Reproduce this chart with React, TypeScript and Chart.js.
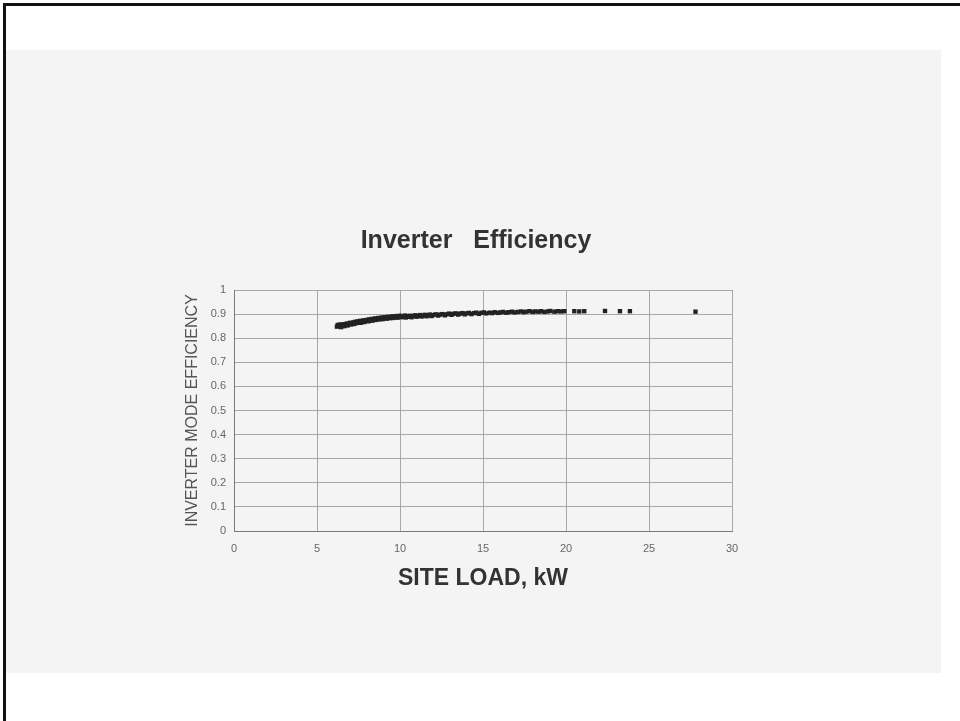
import React, { useEffect, useRef } from "react";
import { Chart, registerables } from "chart.js";

Chart.register(...registerables);

const chartTitle = "Inverter   Efficiency";
const xAxisTitle = "SITE LOAD, kW";
const yAxisTitle = "INVERTER MODE EFFICIENCY";

const siteLoad: number[] = [
  6.2, 6.25, 6.3, 6.4, 6.45, 6.5, 6.6, 6.65, 6.7, 6.8, 6.85, 6.9, 7.0, 7.05, 7.1, 7.2, 7.25, 7.3, 7.4, 7.45,
  7.5, 7.6, 7.65, 7.7, 7.8, 7.85, 7.9, 8.0,
  8.1, 8.15, 8.2, 8.3, 8.35, 8.4, 8.5, 8.55, 8.6, 8.7, 8.75, 8.8, 8.9, 8.95, 9.0, 9.1, 9.2, 9.25, 9.3, 9.4,
  9.5, 9.55, 9.6, 9.7, 9.8, 9.85, 9.9, 10.0, 10.1, 10.2, 10.3, 10.35, 10.4, 10.5,
  10.6, 10.7, 10.8, 10.9, 11.0, 11.1, 11.2, 11.3, 11.4, 11.5, 11.6, 11.7, 11.8, 11.9, 12.0, 12.15, 12.3, 12.4,
  12.55, 12.7, 12.8, 12.95, 13.1, 13.2, 13.35, 13.5, 13.6, 13.75, 13.9, 14.0,
  14.15, 14.3, 14.45, 14.6, 14.75, 14.9, 15.05, 15.2, 15.4, 15.55, 15.7, 15.9, 16.05, 16.2, 16.4, 16.55, 16.75,
  16.9, 17.1, 17.3, 17.45, 17.6, 17.8, 18.0, 18.15, 18.35, 18.5, 18.7, 18.9, 19.05, 19.3, 19.5, 19.7, 19.9,
  20.5, 20.8, 21.1, 22.35, 23.25, 23.85, 27.8,
];

const efficiency: number[] = [
  0.848, 0.855, 0.851, 0.857, 0.846, 0.853, 0.858, 0.85, 0.856, 0.861, 0.853, 0.859, 0.864, 0.857, 0.862, 0.866, 0.859, 0.868, 0.863, 0.87,
  0.866, 0.872, 0.864, 0.869, 0.874, 0.867, 0.872, 0.876,
  0.87, 0.878, 0.874, 0.88, 0.873, 0.877, 0.882, 0.876, 0.88, 0.884, 0.878, 0.882, 0.886, 0.879, 0.883, 0.887, 0.881, 0.885, 0.889, 0.883,
  0.887, 0.891, 0.884, 0.888, 0.892, 0.885, 0.889, 0.893, 0.887, 0.89, 0.894, 0.886, 0.891, 0.889,
  0.893, 0.887, 0.892, 0.895, 0.889, 0.893, 0.896, 0.89, 0.894, 0.897, 0.891, 0.895, 0.898, 0.892, 0.896, 0.899, 0.894, 0.898,
  0.9, 0.895, 0.899, 0.902, 0.897, 0.901, 0.903, 0.898, 0.902, 0.904, 0.899, 0.903,
  0.905, 0.9, 0.904, 0.906, 0.901, 0.905, 0.907, 0.903, 0.906, 0.904, 0.908, 0.905, 0.907, 0.909, 0.906, 0.908, 0.91,
  0.907, 0.909, 0.911, 0.908, 0.91, 0.912, 0.909, 0.911, 0.91, 0.912, 0.909, 0.911, 0.913, 0.91, 0.912, 0.911, 0.912,
  0.912, 0.911, 0.912, 0.913, 0.912, 0.912, 0.91,
];

const FONT = "'Liberation Sans', Arial, sans-serif";

const titlePlugin = {
  id: "offsetTitle",
  afterDraw(chart: any) {
    const { ctx, chartArea } = chart;
    ctx.save();
    ctx.font = `bold 25px ${FONT}`;
    ctx.fillStyle = "#333";
    ctx.textAlign = "center";
    ctx.textBaseline = "middle";
    ctx.fillText(chartTitle, (chartArea.left + chartArea.right) / 2 - 7, chartArea.top - 49);
    ctx.restore();
  },
};

export default function App() {
  const ref = useRef<HTMLCanvasElement | null>(null);

  useEffect(() => {
    if (!ref.current) return;
    const points = siteLoad.map((x, i) => ({ x, y: efficiency[i] }));
    const chart = new Chart(ref.current, {
      type: "scatter",
      data: {
        datasets: [
          {
            data: points,
            pointStyle: "rect",
            pointRadius: 3.1,
            pointBackgroundColor: "#222",
            pointBorderWidth: 0,
            borderWidth: 0,
          },
        ],
      },
      plugins: [titlePlugin],
      options: {
        animation: false,
        responsive: false,
        layout: { padding: { left: 180, right: 228, top: 290, bottom: 120 } },
        plugins: {
          legend: { display: false },
          title: { display: false },
          tooltip: { enabled: false },
        },
        scales: {
          x: {
            type: "linear",
            min: 0,
            max: 30,
            afterFit: (s: any) => {
              s.height = 70;
            },
            ticks: {
              stepSize: 5,
              padding: 11,
              color: "#666",
              font: { family: FONT, size: 11 },
            },
            grid: { color: "#a8a8a8", drawTicks: false, lineWidth: 1 },
            border: { display: true, color: "#7a7a7a", width: 1 },
            title: {
              display: true,
              text: xAxisTitle,
              color: "#333",
              font: { family: FONT, size: 23, weight: "bold" },
              padding: { top: 0, bottom: 9 },
            },
          },
          y: {
            type: "linear",
            min: 0,
            max: 1,
            afterFit: (s: any) => {
              s.width = 54;
            },
            ticks: {
              stepSize: 0.1,
              padding: 8,
              color: "#666",
              font: { family: FONT, size: 11 },
              callback: (v: any) => String(Number(Number(v).toFixed(1))),
            },
            grid: { color: "#a8a8a8", drawTicks: false, lineWidth: 1 },
            border: { display: true, color: "#7a7a7a", width: 1 },
            title: {
              display: true,
              text: yAxisTitle,
              color: "#555",
              font: { family: FONT, size: 16, weight: "normal" },
              padding: { top: 3, bottom: 0 },
            },
          },
        },
      },
    });
    return () => chart.destroy();
  }, []);

  return (
    <div
      style={{
        position: "absolute",
        left: 0,
        top: 0,
        width: 960,
        height: 721,
        background: "#fff",
        overflow: "hidden",
      }}
    >
      <div style={{ position: "absolute", left: 3, top: 3, width: 957, height: 3, background: "#111" }} />
      <div style={{ position: "absolute", left: 3, top: 3, width: 3, height: 718, background: "#111" }} />
      <div style={{ position: "absolute", left: 6, top: 50, width: 935, height: 623, background: "#f4f4f4" }} />
      <canvas
        ref={ref}
        width={960}
        height={721}
        style={{ position: "absolute", left: 0, top: 0, width: 960, height: 721 }}
      />
    </div>
  );
}
